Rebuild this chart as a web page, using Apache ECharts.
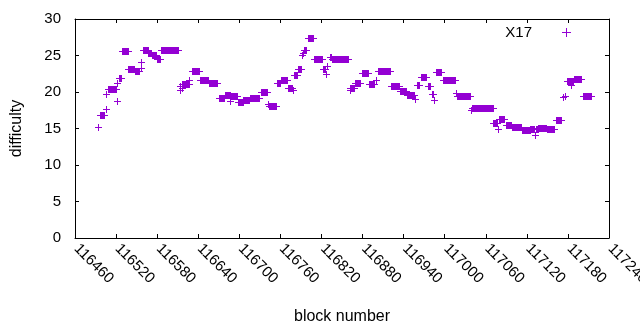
<!DOCTYPE html>
<html>
<head>
<meta charset="utf-8">
<script src="https://cdn.jsdelivr.net/npm/echarts@6/dist/echarts.min.js"></script>
<style>
html,body{margin:0;padding:0;background:#fff;}
#chart{width:640px;height:330px;}
</style>
</head>
<body>
<div id="chart"></div>
<script>
// Runs of consecutive blocks sharing the same difficulty (single points have start == end)
const runStart = [116493,116496,116505,116506,116508,116521,116522,116524,116528,116538,116547,116556,116557,116559,116567,116572,116580,116586,
  116613,116614,116616,116617,116627,116631,116643,116655,116670,116679,116687,116688,116698,116706,116715,116731,116742,116743,
  116755,116761,116771,116778,116780,116785,116792,116793,116795,116800,116809,116822,116826,116828,116832,116835,
  116861,116862,116869,116879,116889,116900,116902,116921,116935,116945,116956,116959,116965,116975,116981,116985,116987,116998,
  117017,117018,117038,117040,117071,117078,117080,117090,117098,117113,117125,117132,117133,117137,117149,117163,117173,117175,117179,117185,117189,117202];
const runEnd = [116493,116503,116505,116506,116520,116521,116522,116527,116537,116546,116554,116556,116557,116566,116571,116578,116584,116611,
  116613,116614,116616,116626,116627,116641,116654,116668,116678,116686,116687,116697,116705,116714,116729,116741,116742,116753,
  116760,116769,116777,116778,116784,116790,116792,116793,116798,116808,116821,116825,116826,116828,116834,116859,
  116861,116868,116877,116888,116897,116900,116920,116933,116943,116955,116956,116963,116973,116979,116983,116985,116994,117015,
  117017,117037,117038,117070,117077,117078,117087,117097,117112,117124,117131,117132,117136,117148,117160,117170,117173,117175,117187,117185,117199,117213];
const difficulty = [15.2,16.9,17.7,19.7,20.4,21.3,18.8,21.9,25.6,23.2,22.9,23.3,24.1,25.7,25.4,25.1,24.5,25.7,
  20.3,20.8,20.6,21.1,21.6,22.9,21.6,21.2,19.2,19.6,18.8,19.4,18.6,18.9,19.2,19.95,18.4,18.1,
  21.2,21.6,20.5,20.3,22.3,23.1,25.1,25.4,25.8,27.4,24.5,23.1,22.5,23.5,24.8,24.5,
  20.3,20.6,21.2,22.6,21.1,21.7,22.9,20.8,20.1,19.6,19.1,20.9,22.0,20.8,19.7,18.9,22.8,21.6,
  19.9,19.5,17.5,17.8,15.8,15.0,16.3,15.5,15.2,14.8,15.0,14.1,14.9,15.1,14.9,16.1,19.3,19.4,21.5,20.9,21.8,19.5];

const seriesName = 'X17';
const xMin = 116460, xMax = 117240, xStep = 60;
const yMin = 0, yMax = 30, yStep = 5;

const data = runStart.map((s, i) => [s, runEnd[i], difficulty[i]]);
const color = '#9400D3';
const font = 'Liberation Sans, Arial, sans-serif';

const chart = echarts.init(document.getElementById('chart'), null, {renderer: 'canvas'});

const axisCommon = {
  axisLine: {show: true, onZero: false, lineStyle: {color: '#000', width: 1}},
  axisTick: {show: true, inside: true, length: 4, lineStyle: {color: '#000', width: 1}},
  splitLine: {show: false},
  minorTick: {show: false}
};

chart.setOption({
  animation: false,
  backgroundColor: '#fff',
  grid: {left: 75, right: 31, top: 19, bottom: 92, containLabel: false, outerBoundsMode: 'none'},
  legend: {
    show: true,
    right: 64,
    top: 20,
    align: 'right',
    itemWidth: 9,
    itemHeight: 9,
    icon: 'path://M4,0h1v4h4v1h-4v4h-1v-4h-4v-1h4z',
    textStyle: {fontFamily: font, fontSize: 15, color: '#000', padding: [0, 25, 0, 0]},
    data: [{name: seriesName, itemStyle: {color: color}}]
  },
  xAxis: [
    Object.assign({}, axisCommon, {
      type: 'value', position: 'bottom', min: xMin, max: xMax, interval: xStep,
      name: 'block number', nameLocation: 'middle', nameGap: 71,
      nameTextStyle: {fontFamily: font, fontSize: 16, color: '#000'},
      axisLabel: {show: true, rotate: -45, margin: 7, fontFamily: font, fontSize: 15, color: '#000',
        padding: [0, 0, 0, 2], formatter: v => String(v)}
    }),
    Object.assign({}, axisCommon, {
      type: 'value', position: 'top', min: xMin, max: xMax, interval: xStep,
      axisLabel: {show: false}
    })
  ],
  yAxis: [
    Object.assign({}, axisCommon, {
      type: 'value', position: 'left', min: yMin, max: yMax, interval: yStep,
      name: 'difficulty', nameLocation: 'middle', nameGap: 50, nameRotate: 90,
      nameTextStyle: {fontFamily: font, fontSize: 16, color: '#000'},
      axisLabel: {show: true, margin: 14, fontFamily: font, fontSize: 15, color: '#000'}
    }),
    Object.assign({}, axisCommon, {
      type: 'value', position: 'right', min: yMin, max: yMax, interval: yStep,
      axisLabel: {show: false}
    })
  ],
  series: [{
    name: seriesName,
    type: 'custom',
    xAxisIndex: 0,
    yAxisIndex: 0,
    itemStyle: {color: color},
    encode: {x: [0, 1], y: 2},
    data: data,
    renderItem: function (params, api) {
      const a = api.coord([api.value(0), api.value(2)]);
      const b = api.coord([api.value(1), api.value(2)]);
      const x0 = Math.round(a[0]);
      const x1 = Math.round(b[0]);
      const yc = Math.round(a[1]);
      const c = api.visual('color');
      return {
        type: 'group',
        children: [
          {type: 'rect', shape: {x: x0, y: yc - 3, width: x1 - x0 + 1, height: 7}, style: {fill: c}},
          {type: 'rect', shape: {x: x0 - 3, y: yc, width: x1 - x0 + 7, height: 1}, style: {fill: c}}
        ]
      };
    }
  }]
});
</script>
</body>
</html>
